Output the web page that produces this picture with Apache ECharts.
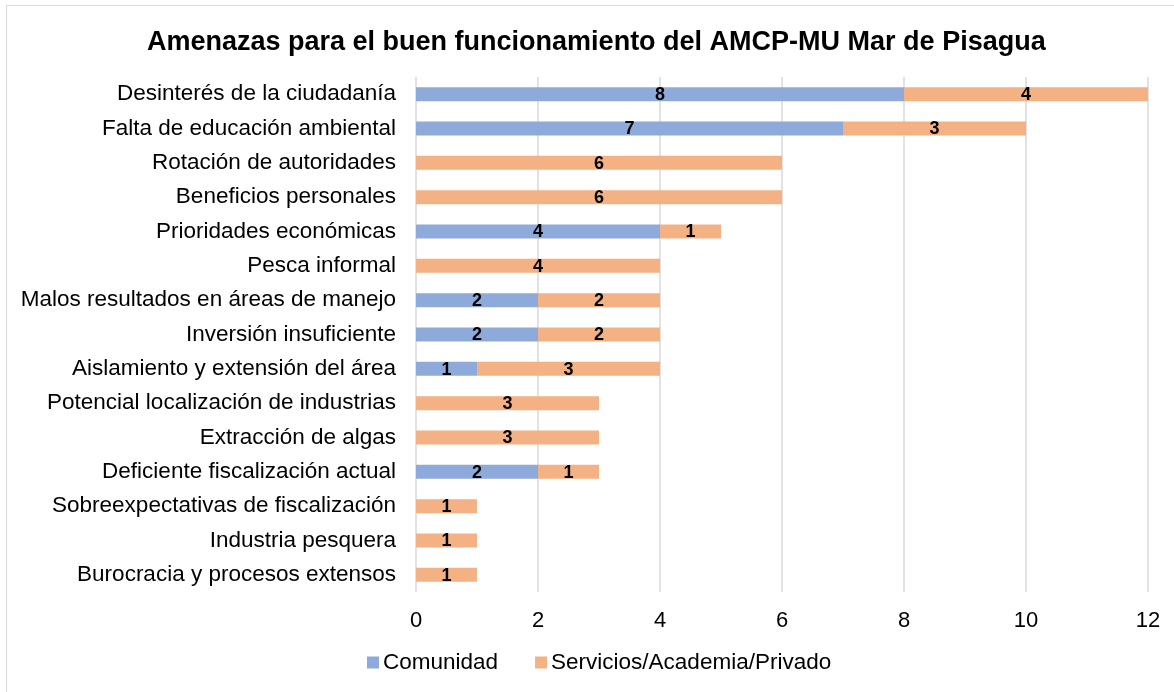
<!DOCTYPE html>
<html>
<head>
<meta charset="utf-8">
<script src="https://cdn.jsdelivr.net/npm/echarts@6/dist/echarts.min.js"></script>
<style>
    html, body { margin: 0; padding: 0; background: #fff; }
    #chart { width: 1174px; height: 692px; }
</style>
</head>
<body>
<div id="chart"></div>
<script>
var categories = [
    'Desinterés de la ciudadanía',
    'Falta de educación ambiental',
    'Rotación de autoridades',
    'Beneficios personales',
    'Prioridades económicas',
    'Pesca informal',
    'Malos resultados en áreas de manejo',
    'Inversión insuficiente',
    'Aislamiento y extensión del área',
    'Potencial localización de industrias',
    'Extracción de algas',
    'Deficiente fiscalización actual',
    'Sobreexpectativas de fiscalización',
    'Industria pesquera',
    'Burocracia y procesos extensos'
];
var comunidad = [8, 7, null, null, 4, null, 2, 2, 1, null, null, 2, null, null, null];
var servicios = [4, 3, 6, 6, 1, 4, 2, 2, 3, 3, 3, 1, 1, 1, 1];
var xTicks = [0, 2, 4, 6, 8, 10, 12];

var font = 'Liberation Sans, Arial, sans-serif';

var myChart = echarts.init(document.getElementById('chart'));
var option = {
    backgroundColor: '#fff',
    textStyle: { fontFamily: font },
    title: {
        text: 'Amenazas para el buen funcionamiento del AMCP-MU Mar de Pisagua',
        left: 142,
        top: 24,
        textStyle: { fontFamily: font, fontSize: 27, fontWeight: 'bold', color: '#000' }
    },
    legend: {
        bottom: 13,
        left: 362,
        itemWidth: 12,
        itemHeight: 12,
        itemGap: 37,
        icon: 'rect',
        textStyle: { fontFamily: font, fontSize: 22.5, color: '#000', padding: [0, 0, 0, -1] },
        data: ['Comunidad', 'Servicios/Academia/Privado']
    },
    graphic: [{
        type: 'rect',
        shape: { x: 6.5, y: 5.5, width: 1200, height: 720 },
        style: { fill: 'none', stroke: '#d9d9d9', lineWidth: 1 },
        silent: true
    }],
    grid: { left: 416, right: 26, top: 77, bottom: 100 },
    xAxis: {
        type: 'value',
        min: xTicks[0],
        max: xTicks[xTicks.length - 1],
        interval: 2,
        axisLine: { show: false },
        axisTick: { show: false },
        axisLabel: { fontFamily: font, fontSize: 22, color: '#000', margin: 18 },
        splitLine: { lineStyle: { color: '#d9d9d9', width: 1.5 } }
    },
    yAxis: {
        type: 'category',
        inverse: true,
        data: categories,
        axisLine: { show: false },
        axisTick: { show: false },
        axisLabel: { fontFamily: font, fontSize: 22.5, color: '#000', margin: 20 }
    },
    series: [
        {
            name: 'Comunidad',
            type: 'bar',
            stack: 'total',
            barWidth: 14,
            data: comunidad,
            itemStyle: { color: '#8eaadb' },
            label: { show: true, position: 'inside', fontFamily: font, fontSize: 18, fontWeight: 'bold', color: '#000', offset: [0, 1] }
        },
        {
            name: 'Servicios/Academia/Privado',
            type: 'bar',
            stack: 'total',
            barWidth: 14,
            data: servicios,
            itemStyle: { color: '#f4b183' },
            label: { show: true, position: 'inside', fontFamily: font, fontSize: 18, fontWeight: 'bold', color: '#000', offset: [0, 1] }
        }
    ]
};
myChart.setOption(option);
</script>
</body>
</html>
